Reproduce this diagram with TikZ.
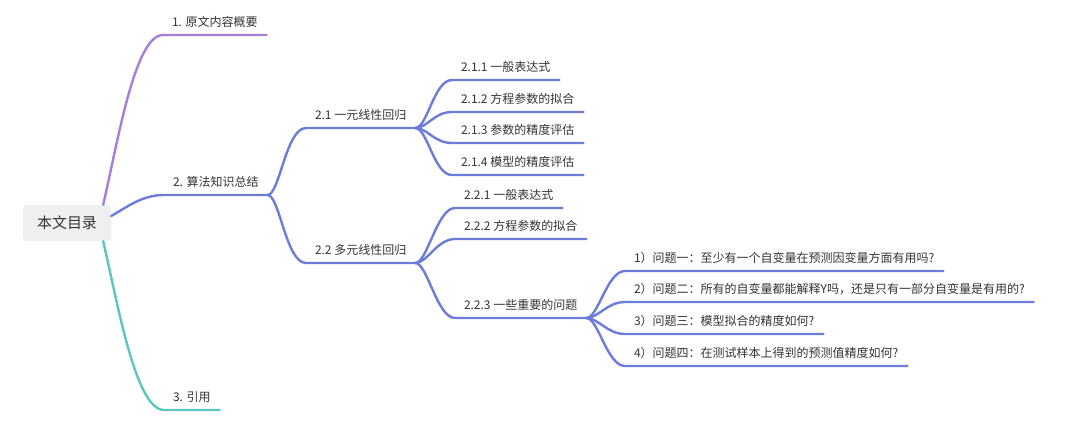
\documentclass[tikz,border=0pt]{standalone}
\usepackage{fontspec}
\newfontfamily\cjk{Noto Sans CJK SC}
\definecolor{cpurple}{HTML}{A67FDB}
\definecolor{cblue}{HTML}{6B7CD9}
\definecolor{cteal}{HTML}{5CC7C0}
\definecolor{ctext}{HTML}{333333}
\definecolor{rootfill}{HTML}{EEF0F0}
\begin{document}
\begin{tikzpicture}[x=1pt,y=-1pt,
  topic/.style={anchor=south west, inner xsep=9pt, inner ysep=5.5pt, outer sep=0pt,
    text height=9pt, text depth=3pt, font=\cjk\fontsize{12}{14}\selectfont, text=ctext},
  rootbox/.style={fill=rootfill, rounded corners=4pt, minimum width=88pt, minimum height=36pt,
    inner sep=0pt, font=\cjk\fontsize{15}{18}\selectfont, text=ctext},
  link/.style={line width=2.4pt, line cap=round}
]
\useasboundingbox (0,0) rectangle (1080,436);

\node[rootbox] (root) at (67,223) {本文目录};

\node[topic] (n1) at (163,35) {1. 原文内容概要};
\node[topic] (n2) at (164,195) {2. 算法知识总结};
\node[topic] (n3) at (164,410) {3. 引用};

\node[topic] (n21) at (306,128) {2.1 一元线性回归};
\node[topic] (n22) at (306,263) {2.2 多元线性回归};

\node[topic] (n211) at (452,80) {2.1.1 一般表达式};
\node[topic] (n212) at (452,112) {2.1.2 方程参数的拟合};
\node[topic] (n213) at (452,143) {2.1.3 参数的精度评估};
\node[topic] (n214) at (452,175) {2.1.4 模型的精度评估};

\node[topic] (n221) at (455,208) {2.2.1 一般表达式};
\node[topic] (n222) at (455,239) {2.2.2 方程参数的拟合};
\node[topic] (n223) at (455,318) {2.2.3 一些重要的问题};

\node[topic] (q1) at (625,271) {1）问题一：至少有一个自变量在预测因变量方面有用吗?};
\node[topic] (q2) at (625,302) {2）问题二：所有的自变量都能解释Y吗，还是只有一部分自变量是有用的?};
\node[topic] (q3) at (625,334) {3）问题三：模型拟合的精度如何?};
\node[topic] (q4) at (625,366) {4）问题四：在测试样本上得到的预测值精度如何?};

% level 1
\draw[link, cpurple] ([xshift=-8pt]root.north east) .. controls +(15,-65) and +(-28,0) .. (n1.south west) -- (n1.south east);
\draw[link, cblue] ([yshift=7pt]root.east) .. controls +(16,-9) and +(-22,0) .. (n2.south west) -- (n2.south east);
\draw[link, cteal] ([xshift=-8pt]root.south east) .. controls +(15,65) and +(-28,0) .. (n3.south west) -- (n3.south east);

% level 2
\foreach \c in {n21,n22}{
  \draw[link, cblue] (n2.south east) .. controls +(12,0) and +(-20,0) .. (\c.south west) -- (\c.south east);
}
\foreach \c in {n211,n212,n213,n214}{
  \draw[link, cblue] (n21.south east) .. controls +(12,0) and +(-18,0) .. (\c.south west) -- (\c.south east);
}
\foreach \c in {n221,n222,n223}{
  \draw[link, cblue] (n22.south east) .. controls +(12,0) and +(-18,0) .. (\c.south west) -- (\c.south east);
}
\foreach \c in {q1,q2,q3,q4}{
  \draw[link, cblue] (n223.south east) .. controls +(12,0) and +(-18,0) .. (\c.south west) -- (\c.south east);
}
\end{tikzpicture}
\end{document}
